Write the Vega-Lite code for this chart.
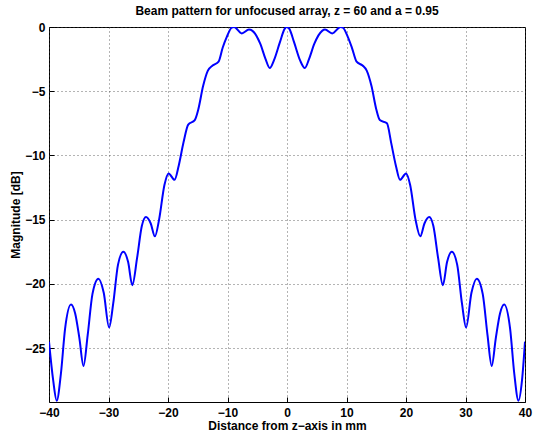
{
  "$schema": "https://vega.github.io/schema/vega-lite/v6.json",
  "width": 476,
  "height": 375,
  "autosize": {"type": "none"},
  "padding": {"left": 49, "top": 27, "right": 9, "bottom": 39},
  "background": "white",
  "title": {"text": "Beam pattern for unfocused array, z = 60 and a = 0.95", "font": "Liberation Sans", "fontSize": 12, "fontWeight": "bold", "color": "black", "anchor": "middle", "offset": 3},
  "config": {
    "view": {"stroke": "black", "strokeWidth": 1},
    "axis": {"labelFont": "Liberation Sans", "labelFontSize": 12, "labelFontWeight": "bold", "labelColor": "black", "titleFont": "Liberation Sans", "titleFontSize": 12, "titleFontWeight": "bold", "titleColor": "black", "domain": false, "grid": true, "gridColor": "#444", "gridDash": [1, 3], "gridOpacity": 0.8, "tickColor": "black", "tickSize": -5, "labelPadding": 9, "labelFlush": false}
  },
  "data": {"values": [
    {"x": -40, "y": -24.5}, {"x": -39.3, "y": -27.5}, {"x": -38.7, "y": -29.1}, {"x": -38.0, "y": -27.0}, {"x": -37.3, "y": -23.5}, {"x": -36.3, "y": -21.6}, {"x": -35.6, "y": -22.3}, {"x": -34.9, "y": -24.2}, {"x": -34.2, "y": -26.4}, {"x": -33.5, "y": -24.0}, {"x": -32.7, "y": -20.8}, {"x": -31.7, "y": -19.6}, {"x": -30.8, "y": -20.7}, {"x": -29.9, "y": -23.4}, {"x": -29.2, "y": -21.5}, {"x": -28.4, "y": -18.5}, {"x": -27.5, "y": -17.5}, {"x": -26.7, "y": -18.3}, {"x": -26.0, "y": -20.1}, {"x": -25.2, "y": -18.0}, {"x": -24.4, "y": -15.5}, {"x": -23.7, "y": -14.8}, {"x": -22.9, "y": -15.3}, {"x": -22.2, "y": -16.3}, {"x": -21.5, "y": -15.0}, {"x": -20.6, "y": -12.3}, {"x": -19.9, "y": -11.4}, {"x": -18.9, "y": -11.9}, {"x": -18.2, "y": -10.8}, {"x": -17.4, "y": -9.0}, {"x": -16.6, "y": -7.6}, {"x": -15.5, "y": -7.25}, {"x": -14.9, "y": -6.4}, {"x": -14.1, "y": -4.6}, {"x": -13.3, "y": -3.4}, {"x": -12.5, "y": -3.0}, {"x": -11.5, "y": -2.7}, {"x": -10.8, "y": -1.6}, {"x": -10.1, "y": -0.75}, {"x": -9.3, "y": -0.05}, {"x": -8.9, "y": 0}, {"x": -7.6, "y": -0.5}, {"x": -6.4, "y": -0.2}, {"x": -5.8, "y": -0.3}, {"x": -4.5, "y": -1.3}, {"x": -3.6, "y": -2.5}, {"x": -2.9, "y": -3.2}, {"x": -2.2, "y": -2.6}, {"x": -1.2, "y": -1.2}, {"x": -0.4, "y": -0.15}, {"x": 0, "y": 0},
    {"x": 0.4, "y": -0.15}, {"x": 1.2, "y": -1.2}, {"x": 2.2, "y": -2.6}, {"x": 3.0, "y": -3.2}, {"x": 3.7, "y": -2.5}, {"x": 4.6, "y": -1.3}, {"x": 5.9, "y": -0.3}, {"x": 6.4, "y": -0.2}, {"x": 7.6, "y": -0.5}, {"x": 9.0, "y": 0}, {"x": 9.4, "y": -0.05}, {"x": 10.2, "y": -0.75}, {"x": 10.9, "y": -1.6}, {"x": 11.7, "y": -2.7}, {"x": 12.7, "y": -3.0}, {"x": 13.4, "y": -3.4}, {"x": 14.2, "y": -4.6}, {"x": 15.0, "y": -6.4}, {"x": 15.6, "y": -7.25}, {"x": 16.8, "y": -7.5}, {"x": 17.5, "y": -9.0}, {"x": 18.3, "y": -10.8}, {"x": 19.0, "y": -11.9}, {"x": 20.0, "y": -11.4}, {"x": 20.7, "y": -12.3}, {"x": 21.6, "y": -15.0}, {"x": 22.4, "y": -16.3}, {"x": 23.1, "y": -15.3}, {"x": 23.9, "y": -14.8}, {"x": 24.6, "y": -15.5}, {"x": 25.4, "y": -18.0}, {"x": 26.2, "y": -20.1}, {"x": 26.9, "y": -18.3}, {"x": 27.7, "y": -17.5}, {"x": 28.6, "y": -18.5}, {"x": 29.4, "y": -21.5}, {"x": 30.1, "y": -23.4}, {"x": 31.0, "y": -20.7}, {"x": 31.9, "y": -19.6}, {"x": 32.9, "y": -20.8}, {"x": 33.7, "y": -24.0}, {"x": 34.4, "y": -26.4}, {"x": 35.1, "y": -24.2}, {"x": 35.8, "y": -22.3}, {"x": 36.5, "y": -21.6}, {"x": 37.5, "y": -23.5}, {"x": 38.2, "y": -27.0}, {"x": 38.9, "y": -29.1}, {"x": 39.5, "y": -27.5}, {"x": 40, "y": -24.5}
  ]},
  "mark": {"type": "line", "color": "#0000FF", "strokeWidth": 2, "interpolate": "monotone", "clip": true},
  "encoding": {
    "x": {"field": "x", "type": "quantitative", "scale": {"domain": [-40, 40], "nice": false}, "axis": {"values": [-40, -30, -20, -10, 0, 10, 20, 30, 40], "title": "Distance from z\u2212axis in mm", "titleX": 238, "titleY": 23, "titleBaseline": "middle", "labelPadding": 10}},
    "y": {"field": "y", "type": "quantitative", "scale": {"domain": [-29.2, 0], "nice": false, "zero": false}, "axis": {"values": [0, -5, -10, -15, -20, -25], "title": "Magnitude [dB]", "titleX": -34, "titleY": 187.5, "titleBaseline": "middle"}}
  }
}
